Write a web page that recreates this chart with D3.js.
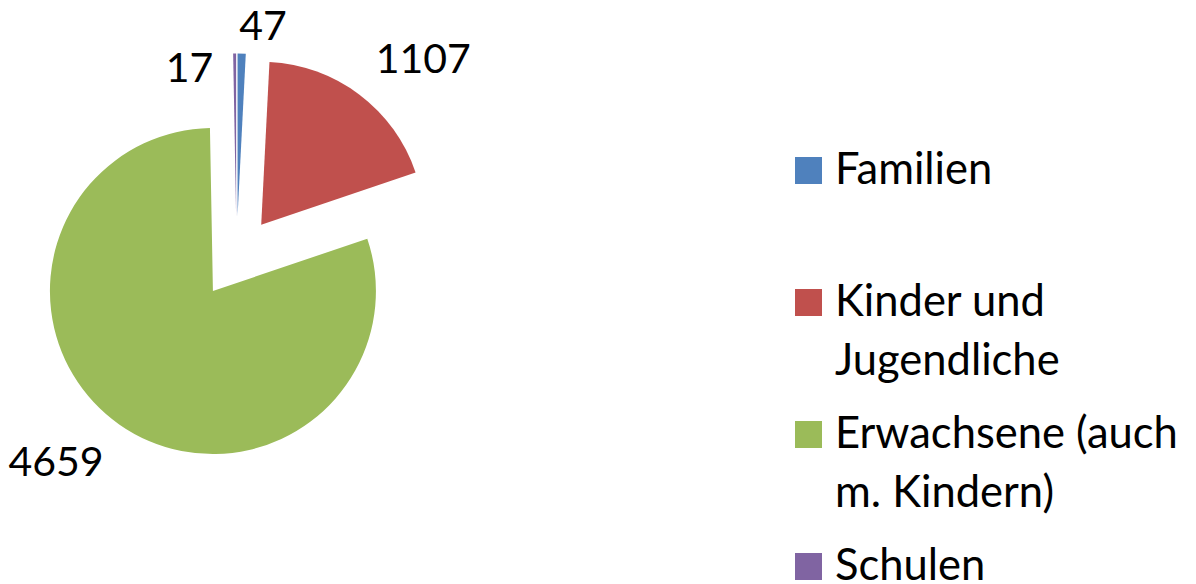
<!DOCTYPE html>
<html>
<head>
<meta charset="utf-8">
<script src="https://cdn.jsdelivr.net/npm/d3@7"></script>
<style>
body { margin: 0; background: white; }
svg { display: block; }
text { font-family: Lato, "Open Sans", sans-serif; fill: black; }
</style>
</head>
<body>
<svg width="1196" height="584"></svg>
<script>
var categories = ["Familien", "Kinder und Jugendliche", "Erwachsene (auch m. Kindern)", "Schulen"];
var values = [47, 1107, 4659, 17];
var legendLines = [["Familien"], ["Kinder und", "Jugendliche"], ["Erwachsene (auch", "m. Kindern)"], ["Schulen"]];
var colors = ["#4F81BD", "#C0504D", "#9BBB59", "#8064A2"];
// small hand nudges for the crowded labels at the top
var labelNudge = [[-3, 13], [0, 0], [0, 0], [-21, 55]];

var svg = d3.select("svg");
var cx = 236.5;
var cy = 257.5;
var radius = 163;
var explode = 41;
var labelPad = 27;
var fontSize = 41;
var legendFontSize = 43.5;
var capHeight = fontSize * 0.72;

function tr(x, y) {
	return "translate(" + x + ", " + y + ")";
}

var pie = d3.pie().sort(null).value(function (d) { return d; });
var arc = d3.arc().innerRadius(0).outerRadius(radius);
var slices = pie(values);

function midAngle(d) {
	return (d.startAngle + d.endAngle) / 2;
}

function sliceCenter(d) {
	var a = midAngle(d);
	return [cx + explode * Math.sin(a), cy - explode * Math.cos(a)];
}

var pieG = svg.append("g");
pieG.selectAll("path")
	.data(slices)
	.enter().append("path")
	.attr("d", arc)
	.attr("fill", function (d, i) { return colors[i]; })
	.attr("transform", function (d) {
		var c = sliceCenter(d);
		return tr(c[0], c[1]);
	});

pieG.selectAll("text")
	.data(slices)
	.enter().append("text")
	.attr("font-size", fontSize)
	.attr("text-anchor", function (d) { return Math.sin(midAngle(d)) >= 0 ? "start" : "end"; })
	.attr("x", function (d, i) {
		var c = sliceCenter(d);
		return c[0] + (radius + labelPad) * Math.sin(midAngle(d)) + labelNudge[i][0];
	})
	.attr("y", function (d, i) {
		var c = sliceCenter(d);
		var a = midAngle(d);
		var y = c[1] - (radius + labelPad) * Math.cos(a);
		if (Math.cos(a) < 0) {
			y += capHeight;
		}
		return y + labelNudge[i][1];
	})
	.text(function (d) { return d.value; });

// legend
var legendX = 795;
var legendY = 157;
var legendStep = 132;
var boxSize = 27;
var lineHeight = 59;

var legend = svg.append("g");
var items = legend.selectAll("g")
	.data(categories)
	.enter().append("g")
	.attr("transform", function (d, i) { return tr(legendX, legendY + i * legendStep); });

items.append("rect")
	.attr("width", boxSize)
	.attr("height", boxSize)
	.attr("fill", function (d, i) { return colors[i]; });

items.append("text")
	.attr("font-size", legendFontSize)
	.attr("y", boxSize)
	.each(function (d, i) {
		var t = d3.select(this);
		legendLines[i].forEach(function (line, k) {
			t.append("tspan")
				.attr("x", 40)
				.attr("y", boxSize + k * lineHeight)
				.text(line);
		});
	});
</script>
</body>
</html>
